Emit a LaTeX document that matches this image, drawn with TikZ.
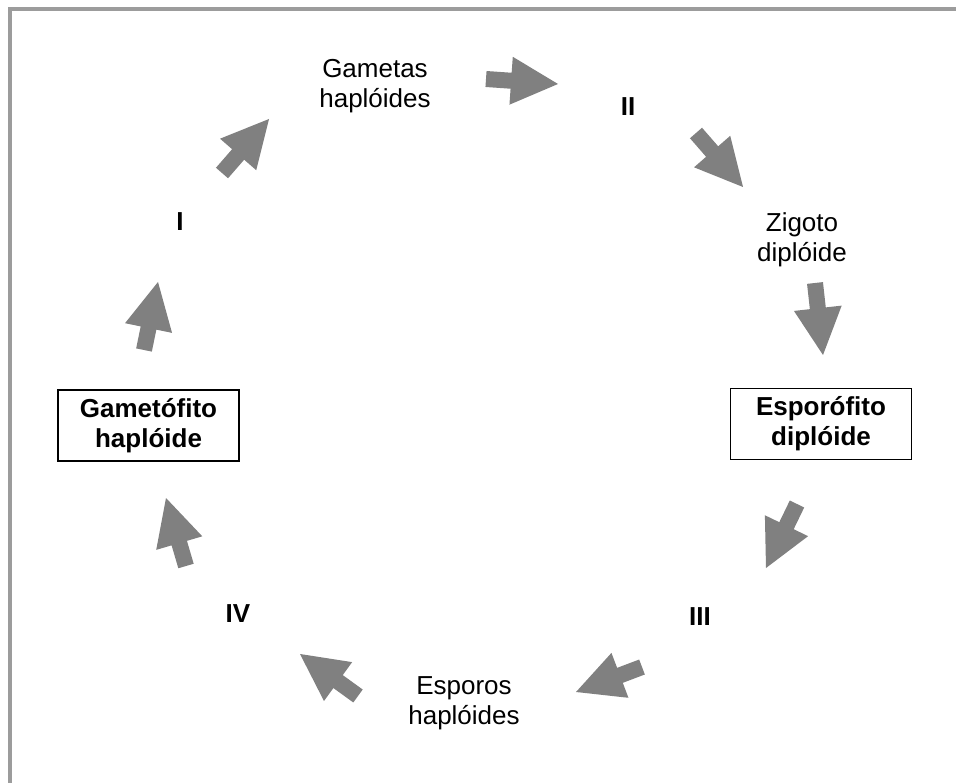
\documentclass[tikz,border=0pt]{standalone}
\usepackage{fontspec}
\setmainfont{Liberation Sans}
\usetikzlibrary{calc}
\definecolor{arrowgray}{HTML}{808080}
\definecolor{framegray}{HTML}{9C9C9C}
\tikzset{
 lbl/.style={font=\fontsize{26}{30}\selectfont, align=center, inner sep=0pt},
 numlbl/.style={font=\fontsize{26}{30}\selectfont\bfseries, inner sep=0pt},
 stagebox/.style={draw=black, line width=1.8pt, font=\fontsize{26}{30}\selectfont\bfseries, align=center, minimum width=181pt, minimum height=71pt, inner sep=0pt},
 fatfill/.style={fill=arrowgray},
 framestyle/.style={draw=framegray, line width=3.6pt}
}
\newcommand\fatarrow[2]{%
 \coordinate (#1-n) at ($(#2)!47pt!(#1)$);
 \fill[fatfill] ($(#1)!8pt!90:(#2)$) -- ($(#1-n)!8pt!90:(#2)$) -- ($(#1-n)!24pt!90:(#2)$) -- (#2)
   -- ($(#1-n)!24pt!-90:(#2)$) -- ($(#1-n)!8pt!-90:(#2)$) -- ($(#1)!8pt!-90:(#2)$) -- cycle;
}
\begin{document}
\begin{tikzpicture}[x=1pt,y=-1pt]
\useasboundingbox (0,0) rectangle (956,783);
\fill[white] (0,0) rectangle (956,783);
\draw[framestyle] (10,785) -- (10,9) -- (958,9);

% text nodes
\node[lbl] (gametas) at (375,86.5) {Gametas\\hapl\'oides};
\node[lbl] (zigoto) at (802,240) {Zigoto\\dipl\'oide};
\node[lbl] (esporos) at (464,703) {Esporos\\hapl\'oides};
\node[stagebox] (gametofito) at (148.5,425.5) {Gamet\'ofito\\hapl\'oide};
\node[stagebox] (esporofito) at (821,424) {Espor\'ofito\\dipl\'oide};
\node[numlbl] (n1) at (180,222) {I};
\node[numlbl] (n2) at (628,107) {II};
\node[numlbl] (n3) at (700,617) {III};
\node[numlbl] (n4) at (238,614) {IV};

% arrow tails and tips
\coordinate (a1t) at (222,173); \coordinate (a1h) at (269,119);
\coordinate (a2t) at (486,79);  \coordinate (a2h) at (558,84);
\coordinate (a3t) at (696,133); \coordinate (a3h) at (743,187);
\coordinate (a4t) at (815,283); \coordinate (a4h) at (823,355);
\coordinate (a5t) at (797,504); \coordinate (a5h) at (766,568);
\coordinate (a6t) at (642,667); \coordinate (a6h) at (576,692);
\coordinate (a7t) at (358,696); \coordinate (a7h) at (300,654);
\coordinate (a8t) at (186,566); \coordinate (a8h) at (166,498);
\coordinate (a9t) at (144,350); \coordinate (a9h) at (158,282);
\fatarrow{a1t}{a1h}
\fatarrow{a2t}{a2h}
\fatarrow{a3t}{a3h}
\fatarrow{a4t}{a4h}
\fatarrow{a5t}{a5h}
\fatarrow{a6t}{a6h}
\fatarrow{a7t}{a7h}
\fatarrow{a8t}{a8h}
\fatarrow{a9t}{a9h}
\end{tikzpicture}
\end{document}
